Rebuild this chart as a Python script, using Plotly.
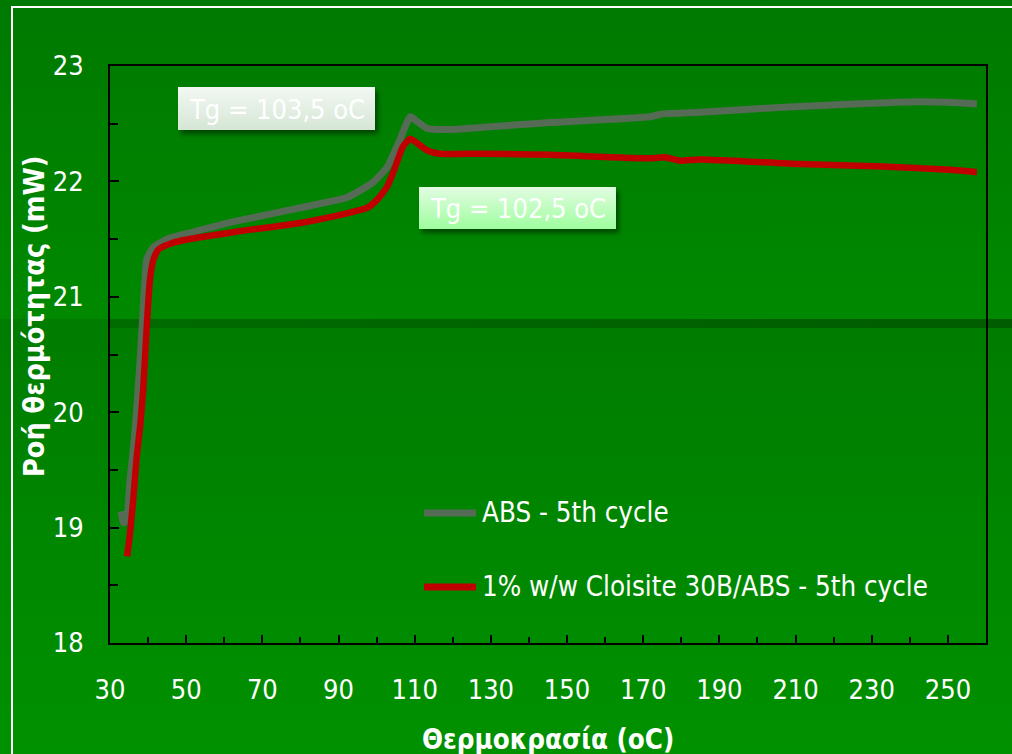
import base64
import plotly.graph_objects as go

# DSC heat-flow traces (temperature in oC, heat flow in mW)
temp_abs = [32.9, 33.6, 34.4, 35.2, 36.1, 36.8, 37.9, 38.7, 39.2, 39.6, 40.1, 41.4, 44.9, 49.2,
            62.3, 79.9, 92.2, 95.6, 99.0, 102.7, 106.1, 108.8, 110.2, 113.2, 119.3, 136.9, 145.5,
            171.8, 175.0, 185.0, 200.0, 211.1, 225.0, 241.9, 250.0, 257.6]
flow_abs = [19.14, 19.04, 19.07, 19.39, 19.67, 19.93, 20.45, 20.89, 21.15, 21.32, 21.36, 21.43,
            21.50, 21.54, 21.65, 21.77, 21.86, 21.92, 21.99, 22.12, 22.36, 22.56, 22.53, 22.46,
            22.45, 22.49, 22.51, 22.56, 22.585, 22.60, 22.63, 22.65, 22.67, 22.69, 22.685, 22.67]

temp_clo = [34.5, 35.25, 36.1, 37.0, 37.9, 38.7, 39.6, 40.5, 41.4, 42.7, 45.8, 49.2, 62.3,
            79.9, 93.0, 97.5, 100.1, 102.7, 104.3, 106.9, 108.8, 110.3, 113.2, 116.6, 127.9,
            145.5, 171.8, 175.7, 179.6, 184.9, 211.1, 232.9, 250.5, 257.6]
flow_clo = [18.75, 18.95, 19.24, 19.61, 19.87, 20.19, 20.71, 21.15, 21.32, 21.41, 21.46, 21.49,
            21.56, 21.64, 21.73, 21.77, 21.84, 21.95, 22.07, 22.30, 22.37, 22.34, 22.27, 22.24,
            22.24, 22.23, 22.20, 22.21, 22.18, 22.19, 22.15, 22.13, 22.10, 22.08]

series_names = ["ABS - 5th cycle", "1% w/w Cloisite 30B/ABS - 5th cycle"]
series_colors = ["#566B56", "#C00000"]
tg_labels = ["Tg = 103,5 oC", "Tg = 102,5 oC"]

x_ticks = list(range(30, 251, 20))
x_minor = list(range(40, 241, 20))
y_ticks = [18, 19, 20, 21, 22, 23]

W, H = 1012, 754
L, R, T, B = 110, 26, 66, 111
PW, PH = W - L - R, H - T - B

FONT = "DejaVu Sans Condensed, DejaVu Sans, sans-serif"


def px(x):
    return (x - L) / PW


def py(y):
    return (H - B - y) / PH


# slide-style backdrop: two vertical gradients, a dark stripe, a white frame
# and the two gradient label boxes with soft shadows
svg = f'''<svg xmlns="http://www.w3.org/2000/svg" width="{W}" height="{H}" viewBox="0 0 {W} {H}">
<defs>
<linearGradient id="top" x1="0" y1="0" x2="0" y2="1">
<stop offset="0" stop-color="#007900"/><stop offset="1" stop-color="#008900"/></linearGradient>
<linearGradient id="bot" x1="0" y1="0" x2="0" y2="1">
<stop offset="0" stop-color="#007C00"/><stop offset="1" stop-color="#009100"/></linearGradient>
<linearGradient id="band" x1="0" y1="0" x2="1" y2="0">
<stop offset="0" stop-color="#006C00"/><stop offset="1" stop-color="#005C00"/></linearGradient>
<linearGradient id="box1" x1="0" y1="0" x2="0" y2="1">
<stop offset="0" stop-color="#F3F8F3"/><stop offset="1" stop-color="#D5E6D5"/></linearGradient>
<linearGradient id="box2" x1="0" y1="0" x2="0" y2="1">
<stop offset="0" stop-color="#E2FCE2"/><stop offset="1" stop-color="#9EFE9E"/></linearGradient>
<filter id="sh" x="-20%" y="-40%" width="140%" height="180%">
<feGaussianBlur stdDeviation="2.5"/></filter>
</defs>
<rect x="0" y="0" width="{W}" height="319" fill="url(#top)"/>
<rect x="0" y="319" width="{W}" height="{H - 319}" fill="url(#bot)"/>
<rect x="{L}" y="319" width="{W - L}" height="9" fill="url(#band)"/>
<rect x="12" y="7" width="1010" height="760" fill="none" stroke="#FFFFFF" stroke-width="2"/>
<rect x="181" y="91" width="197" height="43" fill="#000000" fill-opacity="0.45" filter="url(#sh)"/>
<rect x="178" y="87" width="197" height="43" fill="url(#box1)"/>
<rect x="422" y="191" width="197" height="42" fill="#000000" fill-opacity="0.45" filter="url(#sh)"/>
<rect x="419" y="187" width="197" height="42" fill="url(#box2)"/>
</svg>'''
svg_uri = "data:image/svg+xml;base64," + base64.b64encode(svg.encode("utf-8")).decode("ascii")

fig = go.Figure()
for xs, ys, color, width in [(temp_abs, flow_abs, series_colors[0], 7),
                             (temp_clo, flow_clo, series_colors[1], 6.5)]:
    fig.add_trace(go.Scatter(
        x=xs, y=ys, mode="lines", showlegend=False, hoverinfo="skip",
        line=dict(color=color, width=width, shape="spline", smoothing=0.5),
    ))

axis_common = dict(
    showgrid=False, zeroline=False, showline=True, linecolor="#000000", linewidth=2,
    mirror=True, ticks="inside", tickcolor="#000000", tickwidth=2,
    tickfont=dict(family=FONT, size=27, color="#FFFFFF"),
)

fig.update_xaxes(
    range=[30, 260], tickmode="array", tickvals=x_ticks, ticklen=8,
    ticklabelstandoff=22,
    minor=dict(tickmode="array", tickvals=x_minor, ticks="inside", ticklen=6,
               tickwidth=2, tickcolor="#000000"),
    **axis_common,
)
fig.update_yaxes(
    range=[18, 23], tickmode="array", tickvals=y_ticks, ticklen=9,
    ticklabelstandoff=19,
    minor=dict(dtick=0.5, tick0=18, ticks="inside", ticklen=8,
               tickwidth=2, tickcolor="#000000"),
    **axis_common,
)


def label(text, x, y, size=27, **kw):
    return dict(text=text, x=px(x), y=py(y), xref="paper", yref="paper",
                xanchor=kw.pop("xanchor", "center"), yanchor="middle",
                showarrow=False, font=dict(family=FONT, size=size, color="#FFFFFF"), **kw)


annotations = [
    label(tg_labels[0], 276.5, 109),
    label(tg_labels[1], 517.5, 208),
    label("<b>Θερμοκρασία (oC)</b>", 548, 739, size=27.5),
    label("<b>Ροή θερμότητας (mW)</b>", 34, 316, size=28.5, textangle=-90),
]

# hand-placed key: a short line sample followed by the series name
shapes = []
for i, (name, color) in enumerate(zip(series_names, series_colors)):
    yk = 513 + 74 * i
    shapes.append(dict(type="line", xref="paper", yref="paper",
                       x0=px(424), x1=px(476), y0=py(yk), y1=py(yk),
                       line=dict(color=color, width=7)))
    annotations.append(label(name, 480, yk - 1, size=27.5, xanchor="left"))

fig.update_layout(
    width=W, height=H, margin=dict(l=L, r=R, t=T, b=B),
    paper_bgcolor="#008000", plot_bgcolor="rgba(0,0,0,0)",
    images=[dict(source=svg_uri, xref="paper", yref="paper", x=px(0), y=py(0),
                 sizex=W / PW, sizey=H / PH, xanchor="left", yanchor="top",
                 sizing="stretch", layer="below")],
    annotations=annotations, shapes=shapes,
)

fig.write_html("out.html")
